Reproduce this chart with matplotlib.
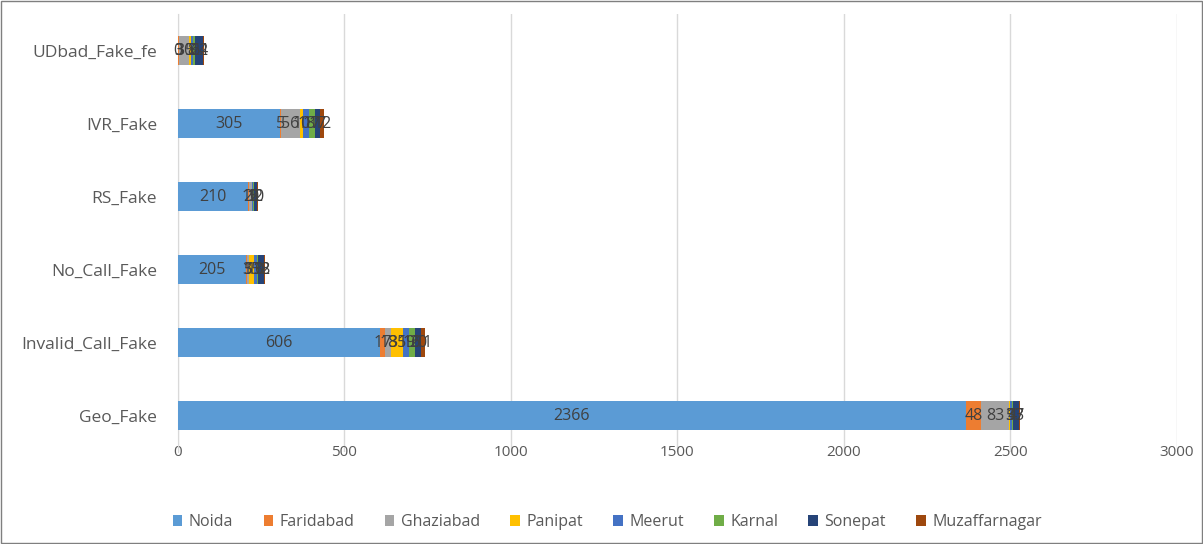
import numpy as np
import matplotlib.pyplot as plt

plt.rcParams['font.family'] = ['Open Sans', 'DejaVu Sans']

categories = ['Geo_Fake', 'Invalid_Call_Fake', 'No_Call_Fake', 'RS_Fake', 'IVR_Fake', 'UDbad_Fake_fe']
cities = ['Noida', 'Faridabad', 'Ghaziabad', 'Panipat', 'Meerut', 'Karnal', 'Sonepat', 'Muzaffarnagar']

noida = [2366, 606, 205, 210, 305, 0]
faridabad = [48, 17, 3, 2, 5, 3]
ghaziabad = [83, 18, 5, 10, 56, 30]
panipat = [3, 35, 15, 1, 10, 5]
meerut = [5, 19, 10, 3, 18, 8]
karnal = [4, 16, 3, 2, 17, 6]
sonepat = [17, 20, 18, 10, 17, 22]
muzaffarnagar = [3, 11, 2, 2, 12, 4]

series = [noida, faridabad, ghaziabad, panipat, meerut, karnal, sonepat, muzaffarnagar]
colors = ['#5B9BD5', '#ED7D31', '#A5A5A5', '#FFC000', '#4472C4', '#70AD47', '#264478', '#9E480E']

fig = plt.figure(figsize=(12.03, 5.44), dpi=100)
ax = fig.add_axes([0.148, 0.169, 0.830, 0.805])

y = np.arange(len(categories))
left = np.zeros(len(categories))
for name, vals, col in zip(cities, series, colors):
    vals = np.array(vals, dtype=float)
    ax.barh(y, vals, left=left, height=0.4, color=col, label=name, zorder=3)
    for yi, l, v in zip(y, left, vals):
        ax.text(l + v / 2, yi, f'{int(v)}', ha='center', va='center',
                fontsize=11.5, color='#404040', zorder=4)
    left += vals

ax.set_xlim(0, 3000)
ax.set_ylim(-0.5, len(categories) - 0.5)
ax.set_xticks(np.arange(0, 3001, 500))
ax.set_yticks(y)
ax.set_yticklabels(categories)
ax.tick_params(axis='both', length=0, labelsize=11, colors='#595959')
ax.tick_params(axis='y', pad=15, labelsize=12.5)
ax.tick_params(axis='x', pad=-5)
ax.grid(axis='x', color='#D9D9D9', linewidth=1, zorder=0)
for side in ['top', 'right', 'bottom']:
    ax.spines[side].set_visible(False)
ax.spines['left'].set_color('#D9D9D9')

ax.legend(loc='center', bbox_to_anchor=(0.43, -0.16), ncol=8, frameon=False,
          fontsize=11.5, handlelength=0.6, handleheight=0.6, handletextpad=0.4,
          columnspacing=1.9, labelcolor='#595959')

fig.patches.append(plt.Rectangle((0.001, 0.002), 0.998, 0.996, transform=fig.transFigure,
                                 fill=False, edgecolor='#7F7F7F', linewidth=1))

fig.savefig('out.png', dpi=100)
